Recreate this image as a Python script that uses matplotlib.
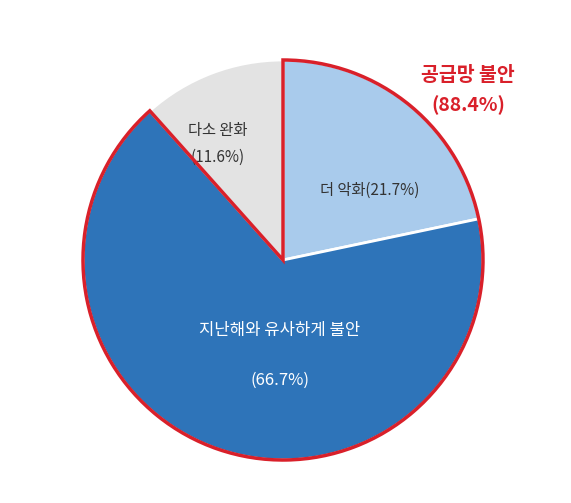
import matplotlib
matplotlib.use("Agg")
import matplotlib.pyplot as plt
from matplotlib.patches import Wedge

plt.rcParams['font.family'] = ['Noto Sans CJK KR', 'DejaVu Sans']

labels = ['더 악화', '지난해와 유사하게 불안', '다소 완화']
values = [21.7, 66.7, 11.6]
colors = ['#a9cbec', '#2e74b9', '#e3e3e3']

fig = plt.figure(figsize=(5.71, 5.03), dpi=100)
ax = fig.add_axes([0, 0, 1, 1])
ax.set_xlim(0, 571); ax.set_ylim(0, 503); ax.set_aspect('equal'); ax.axis('off')

cx, cy, r = 283, 243, 200
ax.pie(values, colors=colors, startangle=90, counterclock=False, radius=r, center=(cx, cy),
       wedgeprops=dict(edgecolor='white', linewidth=2), frame=True)
ax.set_xlim(0, 571); ax.set_ylim(0, 503); ax.axis('off')

sup = values[0] + values[1]
start = 90 - sup * 3.6 + 360
ax.add_patch(Wedge((cx, cy), r, start, 450, fill=False, edgecolor='#d9202a', linewidth=2.5, zorder=5))

ax.text(468, 428, '공급망 불안', color='#d9202a', fontsize=14, fontweight='bold', style='italic', ha='center', va='center')
ax.text(468, 398, f'({sup:.1f}%)', color='#d9202a', fontsize=14, fontweight='bold', style='italic', ha='center', va='center')
ax.text(218, 373, labels[2], color='#333333', fontsize=11, ha='center', va='center')
ax.text(218, 346, f'({values[2]}%)', color='#333333', fontsize=11, ha='center', va='center')
ax.text(370, 313, f'{labels[0]}({values[0]}%)', color='#333333', fontsize=11, ha='center', va='center')
ax.text(280, 173, labels[1], color='white', fontsize=12, ha='center', va='center')
ax.text(280, 123, f'({values[1]}%)', color='white', fontsize=12, ha='center', va='center')

fig.savefig('out.png', dpi=100)
